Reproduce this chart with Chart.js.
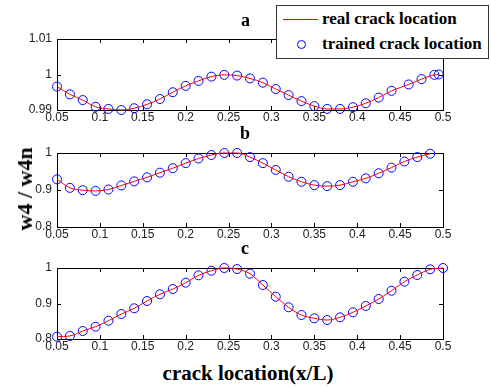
<!DOCTYPE html>
<html>
<head>
    <meta charset="UTF-8">
    <script src="https://cdn.jsdelivr.net/npm/chart.js@4.4.1/dist/chart.umd.min.js"></script>
    <style>
        body {
            margin: 0;
            background: #fff;
            width: 491px;
            height: 387px;
            position: relative;
            overflow: hidden;
        }
        canvas {
            position: absolute;
            left: 0;
        }
        .lbl {
            position: absolute;
            font-family: "Liberation Serif", "Times New Roman", serif;
            font-weight: bold;
            color: #000;
            white-space: nowrap;
        }
        .legend {
            position: absolute;
            left: 276px;
            top: 5px;
            width: 211px;
            height: 52px;
            border: 1px solid #333;
            background: #fff;
        }
    </style>
</head>
<body>

<canvas id="plotA" width="491" height="130" style="top:0px"></canvas>
<canvas id="plotB" width="491" height="117" style="top:130px"></canvas>
<canvas id="plotC" width="491" height="109" style="top:250px"></canvas>

<div class="lbl" style="left:241px; top:10px; font-size:18px;">a</div>
<div class="lbl" style="left:240px; top:123px; font-size:18px;">b</div>
<div class="lbl" style="left:241px; top:238px; font-size:18px;">c</div>

<div class="legend">
    <div style="position:absolute; left:6px; top:13px; width:35px; height:1px; background:#ff0000;"></div>
    <div style="position:absolute; left:20px; top:34px; width:7px; height:7px; border:1px solid #0000ff; border-radius:50%;"></div>
    <div class="lbl" style="left:45px; top:3px; font-size:17px;">real crack location</div>
    <div class="lbl" style="left:45px; top:28px; font-size:17px;">trained crack location</div>
</div>

<div class="lbl" style="left:25px; top:189px; font-size:22px; transform: translate(-50%, -50%) rotate(-90deg);">w4 / w4n</div>
<div class="lbl" style="left:248px; top:373px; font-size:21px; transform: translate(-50%, -50%);">crack location(x/L)</div>

<script>
// plot a
var xA = [0.05, 0.065, 0.08, 0.095, 0.11, 0.125, 0.14, 0.155, 0.17, 0.185, 0.2, 0.215, 0.23, 0.245, 0.26, 0.275,
          0.29, 0.305, 0.32, 0.335, 0.35, 0.365, 0.38, 0.395, 0.41, 0.425, 0.44, 0.46, 0.475, 0.49, 0.495];
var yA = [0.9966, 0.9944, 0.9928, 0.9909, 0.9903, 0.9900, 0.9905, 0.9916, 0.9931, 0.9950, 0.9968, 0.9982, 0.9994, 0.9999, 0.9997, 0.9989,
          0.9977, 0.9959, 0.9942, 0.9925, 0.9911, 0.9903, 0.9903, 0.9908, 0.9919, 0.9935, 0.9954, 0.9972, 0.9987, 0.9999, 1.0];

// plot b
var xB = [0.05, 0.065, 0.08, 0.095, 0.11, 0.125, 0.14, 0.155, 0.17, 0.185, 0.2, 0.215, 0.23, 0.245, 0.26, 0.275,
          0.29, 0.305, 0.32, 0.335, 0.35, 0.365, 0.38, 0.395, 0.41, 0.425, 0.44, 0.455, 0.47, 0.485];
var yB = [0.9288, 0.9058, 0.8995, 0.8975, 0.9014, 0.9123, 0.9233, 0.9342, 0.9468, 0.9589, 0.9726, 0.9852, 0.9945, 1.0, 1.0, 0.989,
          0.9726, 0.9542, 0.9359, 0.9222, 0.9132, 0.9104, 0.9132, 0.9222, 0.9315, 0.9452, 0.9605, 0.977, 0.989, 0.998];

// plot c
var xC = [0.05, 0.065, 0.08, 0.095, 0.11, 0.125, 0.14, 0.155, 0.17, 0.185, 0.2, 0.215, 0.23, 0.245, 0.26, 0.275,
          0.29, 0.305, 0.32, 0.335, 0.35, 0.365, 0.38, 0.395, 0.41, 0.425, 0.44, 0.455, 0.47, 0.485, 0.5];
var yC = [0.8065, 0.8085, 0.8225, 0.8346, 0.8515, 0.8704, 0.8865, 0.907, 0.9259, 0.9408, 0.9586, 0.9794, 0.9924, 1.0, 0.997, 0.984,
          0.9521, 0.9192, 0.8893, 0.8676, 0.8583, 0.8535, 0.8611, 0.8752, 0.893, 0.9127, 0.936, 0.9614, 0.9803, 0.9963, 1.0];

var xTicks = [0.05, 0.1, 0.15, 0.2, 0.25, 0.3, 0.35, 0.4, 0.45, 0.5];

// box around the axes + matlab style inward ticks
var boxTicks = {
    id: 'boxTicks',
    beforeDatasetsDraw: function (chart) {
        var ctx = chart.ctx, a = chart.chartArea;
        var sx = chart.scales.x, sy = chart.scales.y;
        ctx.save();
        ctx.strokeStyle = '#000';
        ctx.lineWidth = 1;
        ctx.beginPath();
        sx.ticks.forEach(function (t) {
            var px = Math.round(sx.getPixelForValue(t.value)) + 0.5;
            ctx.moveTo(px, a.bottom); ctx.lineTo(px, a.bottom - 4);
            ctx.moveTo(px, a.top); ctx.lineTo(px, a.top + 4);
        });
        sy.ticks.forEach(function (t) {
            var py = Math.round(sy.getPixelForValue(t.value)) + 0.5;
            ctx.moveTo(a.left, py); ctx.lineTo(a.left + 4, py);
            ctx.moveTo(a.right, py); ctx.lineTo(a.right - 4, py);
        });
        ctx.stroke();
        ctx.strokeRect(Math.round(a.left) + 0.5, Math.round(a.top) + 0.5,
                       Math.round(a.right - a.left), Math.round(a.bottom - a.top));
        ctx.restore();
    }
};

function fmt(v) {
    return String(Math.round(v * 1000) / 1000);
}

function makePlot(id, xs, ys, yMin, yMax, yStep, padTop) {
    var pts = xs.map(function (x, i) { return { x: x, y: ys[i] }; });
    return new Chart(document.getElementById(id), {
        type: 'scatter',
        data: {
            datasets: [
                {
                    label: 'real crack location',
                    data: pts,
                    showLine: true,
                    borderColor: '#ff0000',
                    borderWidth: 1,
                    pointRadius: 0,
                    cubicInterpolationMode: 'monotone',
                    clip: false
                },
                {
                    label: 'trained crack location',
                    data: pts,
                    showLine: false,
                    borderColor: '#0000ff',
                    backgroundColor: 'rgba(0,0,0,0)',
                    borderWidth: 1,
                    pointRadius: 4.5,
                    clip: false
                }
            ]
        },
        options: {
            responsive: false,
            animation: false,
            events: [],
            layout: { padding: { top: padTop, left: 0, right: 48, bottom: 0 } },
            plugins: {
                legend: { display: false },
                tooltip: { enabled: false }
            },
            scales: {
                x: {
                    type: 'linear',
                    min: 0.05,
                    max: 0.5,
                    afterBuildTicks: function (s) { s.ticks = xTicks.map(function (v) { return { value: v }; }); },
                    afterFit: function (s) { s.height = 20; },
                    grid: { display: false, drawTicks: false },
                    border: { display: false },
                    ticks: {
                        padding: 0,
                        color: '#222',
                        font: { family: 'Liberation Sans', size: 12 },
                        maxRotation: 0,
                        autoSkip: false,
                        callback: fmt
                    }
                },
                y: {
                    type: 'linear',
                    min: yMin,
                    max: yMax,
                    afterFit: function (s) { s.width = 57; },
                    grid: { display: false, drawTicks: false },
                    border: { display: false },
                    ticks: {
                        stepSize: yStep,
                        padding: 5,
                        color: '#222',
                        font: { family: 'Liberation Sans', size: 12 },
                        callback: fmt
                    }
                }
            }
        },
        plugins: [boxTicks]
    });
}

makePlot('plotA', xA, yA, 0.99, 1.01, 0.01, 39);
makePlot('plotB', xB, yB, 0.8, 1.0, 0.1, 23);
makePlot('plotC', xC, yC, 0.8, 1.0, 0.1, 18);
</script>

</body>
</html>
